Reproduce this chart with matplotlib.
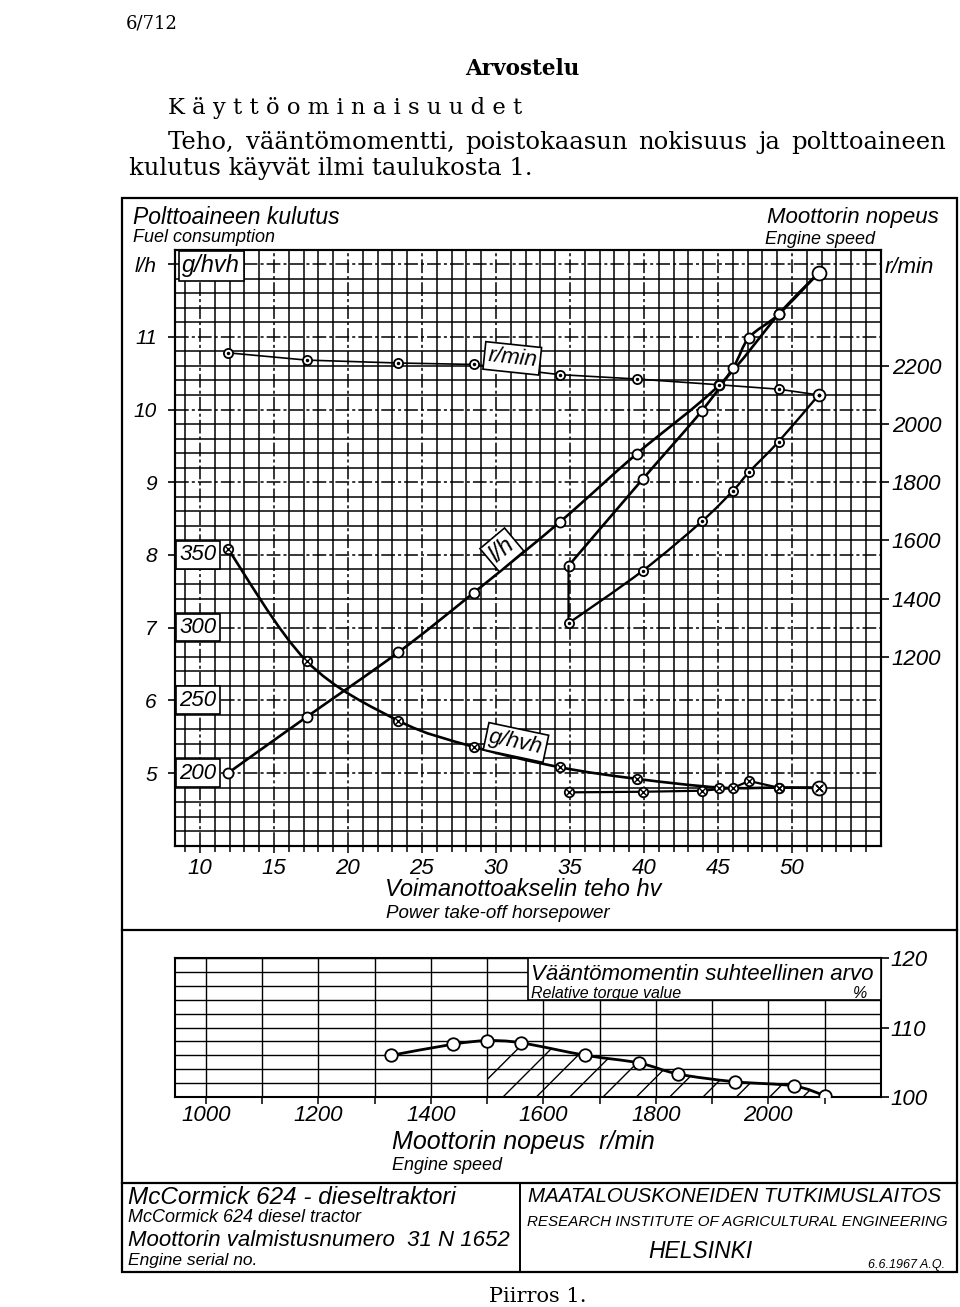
import matplotlib
matplotlib.use('Agg')
import matplotlib.pyplot as plt
import numpy as np
from matplotlib.path import Path
from matplotlib.patches import PathPatch, Rectangle, ConnectionPatch
from matplotlib.lines import Line2D

# part load at governed speed
hp_gov = [11.9, 17.2, 23.4, 28.5, 34.3, 39.5, 45.1, 49.1, 51.8]
rpm_gov = [2245, 2220, 2210, 2205, 2170, 2155, 2135, 2120, 2100]
lh_gov = [5.0, 5.77, 6.66, 7.48, 8.45, 9.39, 10.34, 11.31, 11.88]
ghvh_gov = [354, 277, 236, 218, 204, 196, 190, 190, 190]

# full load
hp_full = [34.9, 39.9, 43.9, 46.0, 47.1, 49.1, 51.8]
rpm_full = [1315, 1495, 1665, 1770, 1835, 1940, 2100]
lh_full = [7.85, 9.04, 9.98, 10.57, 10.99, 11.31, 11.88]
ghvh_full = [186.7, 187.1, 187.8, 189.7, 194.5, 189.9, 189.6]

# relative torque
torque_rpm = [1330, 1440, 1500, 1560, 1675, 1770, 1840, 1940, 2045, 2100]
torque_pct = [106.0, 107.6, 108.1, 107.8, 106.0, 104.9, 103.3, 102.2, 101.6, 100.2]

hp_ticks = [10, 15, 20, 25, 30, 35, 40, 45, 50]
lh_ticks = [5, 6, 7, 8, 9, 10, 11]
ghvh_ticks = [200, 250, 300, 350]
rpm_ticks = [1200, 1400, 1600, 1800, 2000, 2200]
trq_x_ticks = [1000, 1200, 1400, 1600, 1800, 2000]
trq_y_ticks = [100, 110, 120]

plt.rcParams['font.family'] = ['Liberation Sans', 'DejaVu Sans']
plt.rcParams['font.style'] = 'italic'
plt.rcParams['hatch.linewidth'] = 1.0
plt.rcParams['axes.linewidth'] = 1.5
serif = dict(family=['DejaVu Serif'], style='normal')

W, H = 960, 1307
fig = plt.figure(figsize=(W / 100, H / 100), dpi=100)


def fx(px):
    return px / W


def fy(py):
    return 1 - py / H


def ftext(px, py, s, **kw):
    return fig.text(fx(px), fy(py), s, **kw)


def smooth(x, y):
    # catmull-rom through the points, as cubic bezier
    x = np.asarray(x, float)
    y = np.asarray(y, float)
    n = len(x)
    verts = [(x[0], y[0])]
    codes = [Path.MOVETO]
    for i in range(n - 1):
        x0, y0 = (x[i - 1], y[i - 1]) if i > 0 else (x[i], y[i])
        x3, y3 = (x[i + 2], y[i + 2]) if i + 2 < n else (x[i + 1], y[i + 1])
        c1 = (x[i] + (x[i + 1] - x0) / 6, y[i] + (y[i + 1] - y0) / 6)
        c2 = (x[i + 1] - (x3 - x[i]) / 6, y[i + 1] - (y3 - y[i]) / 6)
        verts += [c1, c2, (x[i + 1], y[i + 1])]
        codes += [Path.CURVE4] * 3
    return Path(verts, codes)


def curve(a, x, y, lw=1.8):
    a.add_patch(PathPatch(smooth(x, y), fc='none', ec='black', lw=lw, zorder=4))


def open_c(a, x, y, ms=7.2):
    a.plot(x, y, 'o', ms=ms, mfc='white', mec='black', mew=1.3, zorder=6)


def dot_c(a, x, y, ms=6.6):
    a.plot(x, y, 'o', ms=ms, mfc='white', mec='black', mew=1.3, zorder=6)
    a.plot(x, y, '.', ms=3, color='black', zorder=7)


def cross_c(a, x, y, ms=6.8):
    a.plot(x, y, 'o', ms=ms, mfc='white', mec='black', mew=1.3, zorder=6)
    a.plot(x, y, 'x', ms=ms * 0.62, mew=1.0, color='black', zorder=7)


box = dict(boxstyle='square,pad=0.15', fc='white', ec='black', lw=1.2)

# ---------------- main chart ----------------
ax = fig.add_axes([fx(174.8), fy(845.7), 706 / W, 596.1 / H])
ax.set_xlim(8.3, 56.0)
ax.set_ylim(4.0, 12.2)
ax.set_xticks(hp_ticks)
ax.set_xticks(np.arange(9, 56), minor=True)
ax.set_yticks(lh_ticks + [12])
ax.set_yticklabels([str(v) for v in lh_ticks] + ['l/h'])
ax.set_yticks(np.arange(4.2, 12.2, 0.2), minor=True)
ax.grid(which='minor', color='black', lw=1.1, ls='-')
ax.grid(which='major', color='black', lw=1.1, ls=(0, (9, 2, 2, 2)))
ax.tick_params(axis='y', which='minor', length=0)
ax.tick_params(axis='y', which='major', length=5, width=1.2, pad=8, labelsize=15)
ax.tick_params(axis='x', which='minor', length=4, width=1.1)
ax.tick_params(axis='x', which='major', length=5, width=1.1, pad=4, labelsize=16)
ax.set_axisbelow(True)

ax_r = ax.twinx()
ax_r.set_ylim(550, 2600)
ax_r.set_yticks(rpm_ticks)
ax_r.tick_params(axis='y', length=6, width=1.2, pad=2, labelsize=16)
ax_r.text(1.005, 2540, 'r/min', transform=ax_r.get_yaxis_transform(),
          fontsize=16, ha='left', va='center')

ax_g = ax.twinx()
ax_g.set_ylim(150, 560)
ax_g.set_yticks([])
for sp in ax_g.spines.values():
    sp.set_visible(False)

# l/h
curve(ax, hp_gov, lh_gov, lw=1.9)
curve(ax, hp_full, lh_full, lw=1.9)
open_c(ax, hp_gov, lh_gov)
open_c(ax, hp_full, lh_full)
open_c(ax, hp_full[-1:], lh_full[-1:], ms=10)

# r/min
ax_r.plot(hp_gov, rpm_gov, color='black', lw=1.2, zorder=4)
curve(ax_r, hp_full, rpm_full, lw=1.7)
dot_c(ax_r, hp_gov, rpm_gov)
dot_c(ax_r, hp_full, rpm_full)
dot_c(ax_r, hp_full[-1:], rpm_full[-1:], ms=8.5)
ax_r.add_artist(ConnectionPatch(xyA=(hp_full[0], lh_full[0]), coordsA=ax.transData,
                                xyB=(hp_full[0], rpm_full[0]), coordsB=ax_r.transData,
                                color='black', lw=1.6, zorder=3))

# g/hvh
curve(ax_g, hp_gov, ghvh_gov, lw=1.9)
ax_g.plot(hp_full, ghvh_full, color='black', lw=1.6, zorder=4)
cross_c(ax_g, hp_gov, ghvh_gov)
cross_c(ax_g, hp_full, ghvh_full)
cross_c(ax_g, hp_full[-1:], ghvh_full[-1:], ms=10)

for g in ghvh_ticks:
    ax_g.text(9.85, g, str(g), fontsize=16, ha='center', va='center', bbox=box, zorder=8)
ax_g.text(10.75, 549, 'g/hvh', fontsize=17, ha='center', va='center', bbox=box, zorder=8)

ax_r.text(31.1, 2226, 'r/min', fontsize=16, rotation=-6, ha='center', va='center',
          rotation_mode='anchor', bbox=box, zorder=8)
ax.text(30.4, 8.07, 'l/h', fontsize=17, rotation=40, ha='center', va='center',
        rotation_mode='anchor', bbox=box, zorder=8)
ax_g.text(31.35, 221, 'g/hvh', fontsize=16, rotation=-12, ha='center', va='center',
          rotation_mode='anchor', bbox=box, zorder=8)

# ---------------- torque chart ----------------
ax_t = fig.add_axes([fx(174.8), fy(1097), 706 / W, 139 / H])
ax_t.set_xlim(945, 2200)
ax_t.set_ylim(100, 120)
ax_t.set_xticks(trq_x_ticks)
ax_t.set_xticks(np.arange(1100, 2200, 200), minor=True)
ax_t.set_yticks(trq_y_ticks)
ax_t.set_yticks(np.arange(102, 120, 2), minor=True)
ax_t.yaxis.tick_right()
ax_t.grid(which='both', axis='both', color='black', lw=1.0, ls='-')
ax_t.tick_params(axis='x', which='both', length=5, width=1.1, pad=1, labelsize=16)
ax_t.tick_params(axis='y', which='major', length=6, width=1.2, pad=1, labelsize=16)
ax_t.tick_params(axis='y', which='minor', length=0)
ax_t.set_axisbelow(True)

tp = smooth(torque_rpm, torque_pct)
ax_t.add_patch(PathPatch(tp, fc='none', ec='black', lw=2.0, zorder=4))
k = torque_rpm.index(1500)
hv = [(torque_rpm[k], 100)] + list(tp.vertices[3 * k:]) + [(torque_rpm[-1], 100), (torque_rpm[k], 100)]
hc = [Path.MOVETO, Path.LINETO] + [Path.CURVE4] * (len(tp.vertices) - 3 * k - 1) + [Path.LINETO, Path.CLOSEPOLY]
ax_t.add_patch(PathPatch(Path(hv, hc), fc='none', ec='black', lw=0, hatch='/', zorder=3))
open_c(ax_t, torque_rpm, torque_pct, ms=9)

ax_t.add_patch(Rectangle((1572, 114), 2200 - 1572, 6, fc='white', ec='black', lw=1.2, zorder=5))
ax_t.text(1578, 117.6, 'Vääntömomentin suhteellinen arvo', fontsize=16, ha='left', va='center', zorder=6)
ax_t.text(1578, 114.3, 'Relative torque value', fontsize=11.5, ha='left', va='baseline', zorder=6)
ax_t.text(2150, 114.3, '%', fontsize=11.5, ha='left', va='baseline', zorder=6)

# ---------------- frame and lettering ----------------
fig.add_artist(Rectangle((fx(122), fy(1272)), (957 - 122) / W, (1272 - 198) / H,
                         transform=fig.transFigure, fill=False, lw=1.6))
for yy in (930, 1183):
    fig.add_artist(Line2D([fx(122), fx(957)], [fy(yy), fy(yy)], transform=fig.transFigure,
                          color='black', lw=1.6))
fig.add_artist(Line2D([fx(520), fx(520)], [fy(1183), fy(1272)], transform=fig.transFigure,
                      color='black', lw=1.4))

ftext(133, 217, 'Polttoaineen kulutus', fontsize=16.5, va='center')
ftext(133, 238, 'Fuel consumption', fontsize=13, va='center')
ftext(767, 217, 'Moottorin nopeus', fontsize=16, va='center')
ftext(765, 239, 'Engine speed', fontsize=13, va='center')
ftext(385, 890, 'Voimanottoakselin teho hv', fontsize=17, va='center')
ftext(386, 913, 'Power take-off horsepower', fontsize=13.5, va='center')
ftext(392, 1142, 'Moottorin nopeus  r/min', fontsize=18, va='center')
ftext(392, 1165, 'Engine speed', fontsize=13, va='center')

ftext(128, 1197, 'McCormick 624 - dieseltraktori', fontsize=17.5, va='center')
ftext(128, 1218, 'McCormick 624 diesel tractor', fontsize=13, va='center')
ftext(128, 1240, 'Moottorin valmistusnumero  31 N 1652', fontsize=16, va='center')
ftext(128, 1261, 'Engine serial no.', fontsize=12.5, va='center')
ftext(528, 1197, 'MAATALOUSKONEIDEN TUTKIMUSLAITOS', fontsize=14.8, va='center')
ftext(527, 1222, 'RESEARCH INSTITUTE OF AGRICULTURAL ENGINEERING', fontsize=10.9, va='center')
ftext(648, 1252, 'HELSINKI', fontsize=16.5, va='center')
ftext(868, 1265, '6.6.1967 A.Q.', fontsize=9, va='center')

# page text
ftext(126, 28, '6/712', fontsize=13, va='baseline', **serif)
ftext(522, 75, 'Arvostelu', fontsize=15.5, va='baseline', ha='center', weight='bold', **serif)
ftext(168, 114, ' '.join('Käyttöominaisuudet'), fontsize=16.3, va='baseline', **serif)

# justified first line of the paragraph
words = ['Teho,', 'vääntömomentti,', 'poistokaasun', 'nokisuus', 'ja', 'polttoaineen']
rend = fig.canvas.get_renderer()
arts = [ftext(168, 149, wd, fontsize=17.5, va='baseline', **serif) for wd in words]
widths = [a.get_window_extent(rend).width for a in arts]
gap = (946 - 168 - sum(widths)) / (len(words) - 1)
xpos = 168
for a, wdt in zip(arts, widths):
    a.set_x(fx(xpos))
    xpos += wdt + gap
ftext(129, 175, 'kulutus käyvät ilmi taulukosta 1.', fontsize=17.5, va='baseline', **serif)
ftext(538, 1302, 'Piirros 1.', fontsize=15, va='baseline', ha='center', **serif)

fig.savefig('out.png', dpi=100)
